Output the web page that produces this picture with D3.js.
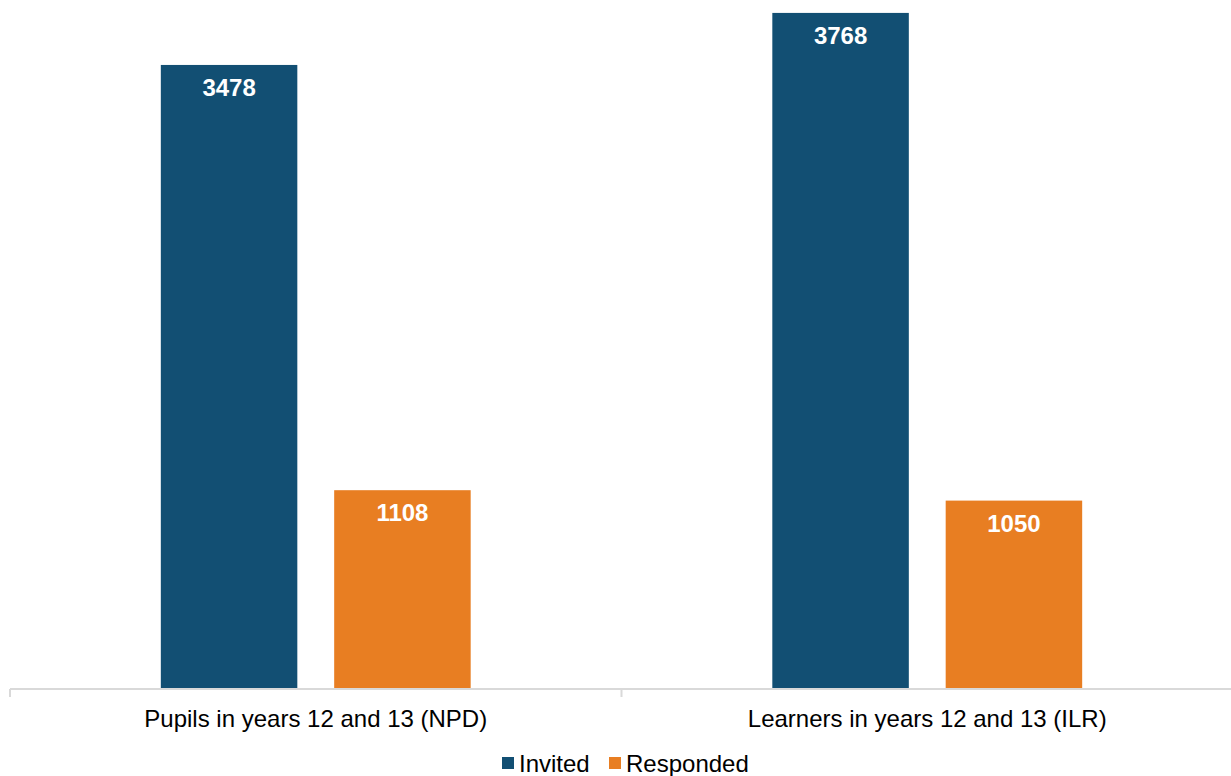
<!DOCTYPE html>
<html>
<head>
<meta charset="utf-8">
<script src="https://cdn.jsdelivr.net/npm/d3@7"></script>
<style>
  body { margin: 0; background: #fff; }
  svg { display: block; font-family: "Liberation Sans", Arial, sans-serif; }
</style>
</head>
<body>
<div id="chart"></div>
<script>
const categories = ['Pupils in years 12 and 13 (NPD)', 'Learners in years 12 and 13 (ILR)'];
const series = ['Invited', 'Responded'];
const invited = [3478, 3768];
const responded = [1108, 1050];
const colors = ['#124f73', '#e87e22'];

const width = 1231, height = 776;
const margin = {top: 0, right: -2, bottom: 87, left: 10};
const plotW = width - margin.left - margin.right;
const plotH = height - margin.top - margin.bottom;

const svg = d3.select('#chart')
  .append('svg')
  .attr('width', width)
  .attr('height', height);

const g = svg.append('g')
  .attr('transform', `translate(${margin.left}, ${margin.top})`);

const x0 = d3.scaleBand().domain(categories).range([0, plotW]).padding(0);
const x1 = d3.scaleBand().domain(series).range([0, x0.bandwidth()])
  .paddingInner(0.2126).paddingOuter(0.87);
const y = d3.scaleLinear().domain([0, 3840]).range([plotH, 0]);

const rows = categories.map((c, i) => ({
  cat: c,
  vals: [{s: series[0], v: invited[i]}, {s: series[1], v: responded[i]}]
}));

const groups = g.selectAll('.grp')
  .data(rows)
  .enter()
  .append('g')
  .attr('transform', d => `translate(${x0(d.cat)}, 0)`);

groups.selectAll('rect')
  .data(d => d.vals)
  .enter()
  .append('rect')
  .attr('x', d => x1(d.s))
  .attr('y', d => y(d.v))
  .attr('width', x1.bandwidth())
  .attr('height', d => plotH - y(d.v))
  .attr('fill', (d, i) => colors[i]);

groups.selectAll('.lbl')
  .data(d => d.vals)
  .enter()
  .append('text')
  .attr('x', d => x1(d.s) + x1.bandwidth() / 2)
  .attr('y', d => y(d.v) + 31)
  .attr('text-anchor', 'middle')
  .attr('fill', '#fff')
  .attr('font-weight', 'bold')
  .attr('font-size', 24)
  .text(d => d.v);

// axis
const axis = g.append('g').attr('transform', `translate(0, ${plotH})`);
axis.append('line')
  .attr('x1', 0).attr('x2', plotW)
  .attr('y1', 0).attr('y2', 0)
  .attr('stroke', '#d9d9d9').attr('stroke-width', 2);
axis.selectAll('.tick')
  .data([0, x0.bandwidth()])
  .enter()
  .append('line')
  .attr('x1', d => d).attr('x2', d => d)
  .attr('y1', 0).attr('y2', 8)
  .attr('stroke', '#d9d9d9').attr('stroke-width', 2);
axis.selectAll('.cat')
  .data(categories)
  .enter()
  .append('text')
  .attr('x', d => x0(d) + x0.bandwidth() / 2)
  .attr('y', 38)
  .attr('text-anchor', 'middle')
  .attr('font-size', 24)
  .attr('fill', '#000')
  .text(d => d);

// legend
const legend = svg.append('g').attr('transform', 'translate(502, 763)');
const legX = [0, 107];
series.forEach((s, i) => {
  legend.append('rect')
    .attr('x', legX[i]).attr('y', -6)
    .attr('width', 12).attr('height', 12)
    .attr('fill', colors[i]);
  legend.append('text')
    .attr('x', legX[i] + 17).attr('y', 8.5)
    .attr('font-size', 24)
    .attr('fill', '#000')
    .text(s);
});
</script>
</body>
</html>
